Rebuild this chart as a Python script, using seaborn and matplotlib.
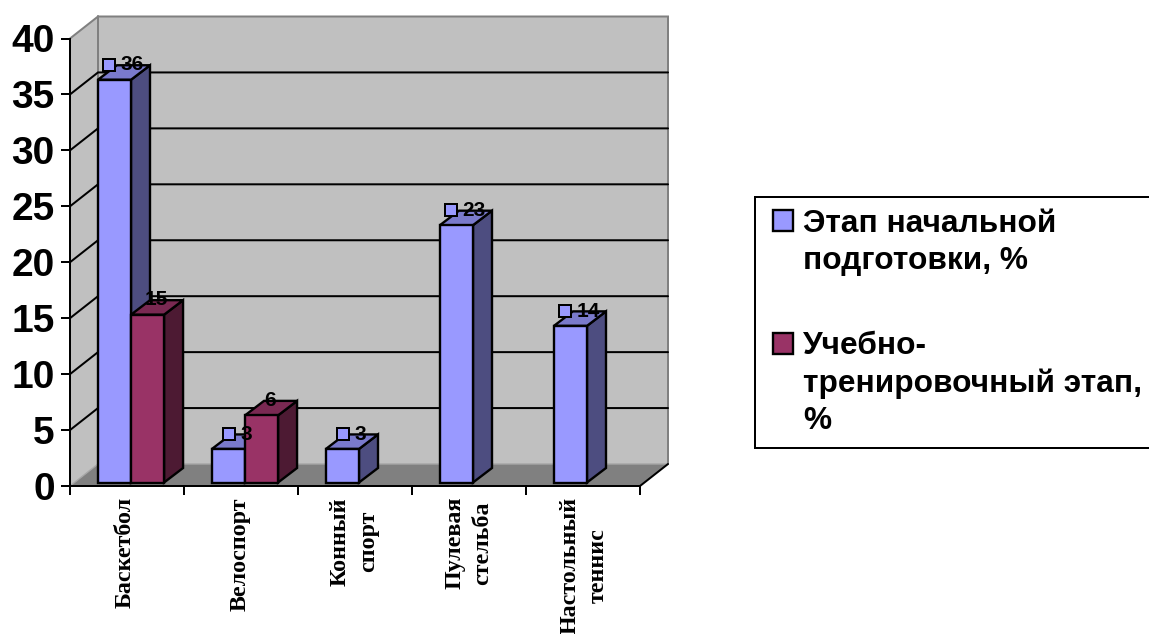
import numpy as np
import pandas as pd
import matplotlib
matplotlib.use("Agg")
import matplotlib.pyplot as plt
from matplotlib.patches import Polygon
from matplotlib.transforms import ScaledTranslation
import seaborn as sns

categories = ["Баскетбол", "Велоспорт", "Конный\nспорт", "Пулевая\nстельба", "Настольный\nтеннис"]
series_a_name = "Этап начальной\nподготовки, %"
series_b_name = "Учебно-\nтренировочный этап,\n%"
series_a = [36, 3, 3, 23, 14]
series_b = [15, 6, np.nan, np.nan, np.nan]
y_ticks = [0, 5, 10, 15, 20, 25, 30, 35, 40]

colors_front = ["#9999FF", "#993366"]
colors_side = ["#4D4D80", "#4D1A33"]
colors_top = ["#7A7ACC", "#7A2952"]

W, H = 1149, 634
sns.set_style("white")
plt.rcParams["font.family"] = ["Liberation Sans", "DejaVu Sans"]

fig = plt.figure(figsize=(W / 100, H / 100), dpi=100, facecolor="white")
L, R, T, B = 70, 640, 38.5, 486
ax = fig.add_axes([L / W, 1 - B / H, (R - L) / W, (B - T) / H])
ax.set_facecolor("none")

bar_lw = 1.7
df = pd.DataFrame({
    "cat": categories * 2,
    "series": [series_a_name] * len(categories) + [series_b_name] * len(categories),
    "value": list(series_a) + list(series_b),
})
sns.barplot(data=df, x="cat", y="value", hue="series", order=categories,
            hue_order=[series_a_name, series_b_name], palette=colors_front,
            width=0.58, gap=0, saturation=1, edgecolor="black", linewidth=bar_lw,
            ax=ax, legend=True)
ax.set_xlim(-0.5, 4.5)
ax.set_ylim(0, 40)
ax.set_xlabel("")
ax.set_ylabel("")

ux = 5 / (R - L)         # data units per pixel, x
uy = 40 / (B - T)        # data units per pixel, y
lw = 1.44
x0, x1 = -0.5, 4.5
wdx, wdy = 28 * ux, 22 * uy       # wall depth
bdx, bdy = 19 * ux, 14.5 * uy     # bar depth
sx, sy = 4 * ux, 3.5 * uy         # bar offset from the front plane


def poly(pts, fc, ec="none", z=1, lw_=0):
    ax.add_patch(Polygon(pts, closed=True, facecolor=fc, edgecolor=ec, linewidth=lw_,
                         zorder=z, clip_on=False, joinstyle="miter"))


# walls and floor
poly([(x0 + wdx, wdy), (x1 + wdx, wdy), (x1 + wdx, 40 + wdy), (x0 + wdx, 40 + wdy)], "#C0C0C0", z=0.5)
poly([(x0, 0), (x0 + wdx, wdy), (x0 + wdx, 40 + wdy), (x0, 40)], "#C0C0C0", z=0.5)
poly([(x0, 0), (x1, 0), (x1 + wdx, wdy), (x0 + wdx, wdy)], "#808080", z=0.6)

for v in y_ticks[1:-1]:
    ax.plot([x0, x0 + wdx, x1 + wdx], [v, v + wdy, v + wdy], color="black", lw=lw,
            zorder=0.8, clip_on=False, solid_joinstyle="miter")
ax.plot([x0, x0 + wdx, x1 + wdx, x1 + wdx], [40, 40 + wdy, 40 + wdy, wdy], color="#808080", lw=lw,
        zorder=0.7, clip_on=False, solid_joinstyle="miter")
ax.plot([x0 + wdx, x0 + wdx], [40 + wdy, wdy], color="#808080", lw=lw, zorder=0.7, clip_on=False)
ax.plot([x0, x0 + wdx, x1 + wdx], [0, wdy, wdy], color="#A6A6A6", lw=1.0, zorder=0.7, clip_on=False)
ax.plot([x1, x1 + wdx], [0, wdy], color="black", lw=lw, zorder=0.9, clip_on=False)

# bars: shift the seaborn fronts and add their depth faces
order = []
for si, rects in enumerate(ax.containers):
    for ci, r in enumerate(rects):
        h = r.get_height()
        if np.isnan(h):
            continue
        order.append((ci, si, r, h))
order.sort(key=lambda t: (t[0], t[1]))

for n, (ci, si, r, h) in enumerate(order):
    z = 2 + n * 0.1
    r.set_x(r.get_x() + sx)
    r.set_y(sy)
    r.set_clip_on(False)
    r.set_zorder(z + 0.05)
    xl, xr = r.get_x(), r.get_x() + r.get_width()
    yb, yt = sy, h + sy
    poly([(xr, yb), (xr + bdx, yb + bdy), (xr + bdx, yt + bdy), (xr, yt)],
         colors_side[si], "black", z, bar_lw)
    poly([(xl, yt), (xr, yt), (xr + bdx, yt + bdy), (xl + bdx, yt + bdy)],
         colors_top[si], "black", z, bar_lw)

# data labels with legend keys
for ci, si, r, h in order:
    cx = r.get_x() + r.get_width() / 2 + 8.5 * ux
    ty = h + sy + 14.8 * uy
    text = f"{int(h)}"
    if si == 0:
        tw = 11.5 * len(text)
        bw = 14 + 4.5 + tw
        left = cx - bw / 2 * ux
        ax.plot([left + 7 * ux], [ty], marker="s", ms=9.3, mfc=colors_front[si], mec="black",
                mew=lw, zorder=20, clip_on=False, ls="none")
        ax.text(left + 18.5 * ux, ty, text, ha="left", va="center", fontsize=15,
                fontweight="bold", color="black", zorder=21, clip_on=False)
    else:
        ax.text(cx, ty, text, ha="center", va="center", fontsize=15,
                fontweight="bold", color="black", zorder=21, clip_on=False)

# axes
sns.despine(ax=ax, top=True, right=True)
for s in ("left", "bottom"):
    ax.spines[s].set_color("black")
    ax.spines[s].set_linewidth(lw)
    ax.spines[s].set_zorder(1.5)
ax.set_yticks(y_ticks)
ax.set_yticklabels([str(v) for v in y_ticks])
ax.tick_params(axis="y", length=6.5, width=lw, color="black", pad=4.5, labelsize=28,
               left=True, labelcolor="black")
for t in ax.get_yticklabels():
    t.set_fontweight("bold")
    t.set_family(["Liberation Sans"])

ax.set_xticks(range(len(categories)))
ax.set_xticklabels(categories, rotation=90, ha="center", va="top", ma="center",
                   family=["Liberation Serif"], fontweight="bold", fontsize=17.3, linespacing=1.42,
                   color="black")
ax.set_xticks(np.arange(x0, x1 + 0.5), minor=True)
ax.tick_params(axis="x", which="major", length=0, pad=8, bottom=False)
ax.tick_params(axis="x", which="minor", length=6.5, width=lw, color="black", bottom=True)
label_shift = [-1.5, -1, -0.5, 0, 1]
for t, d in zip(ax.get_xticklabels(), label_shift):
    t.set_transform(t.get_transform() + ScaledTranslation(d / 100, 0, fig.dpi_scale_trans))

# legend
sns.move_legend(ax, loc="upper left", bbox_to_anchor=(755 / W, 1 - 197 / H),
                bbox_transform=fig.transFigure, title=None, frameon=True, fancybox=False,
                framealpha=1, edgecolor="black", facecolor="white",
                prop={"weight": "bold", "family": "Liberation Sans", "size": 22.8},
                borderpad=0.38, labelspacing=1.75, handlelength=0.82, handleheight=0.63,
                handletextpad=0.32, borderaxespad=0, labelcolor="black")
leg = ax.get_legend()
leg.get_frame().set_linewidth(lw)
for txt in leg.get_texts():
    txt.set_linespacing(1.3)
for patch, up in zip(leg.get_patches(), [15.9, 29.0]):
    patch.set_y(patch.get_y() + up)
    patch.set_x(patch.get_x() + 4.3)
    patch.set_width(14.4)
leg.set_zorder(30)

fig.savefig("out.png", dpi=100, facecolor="white")
